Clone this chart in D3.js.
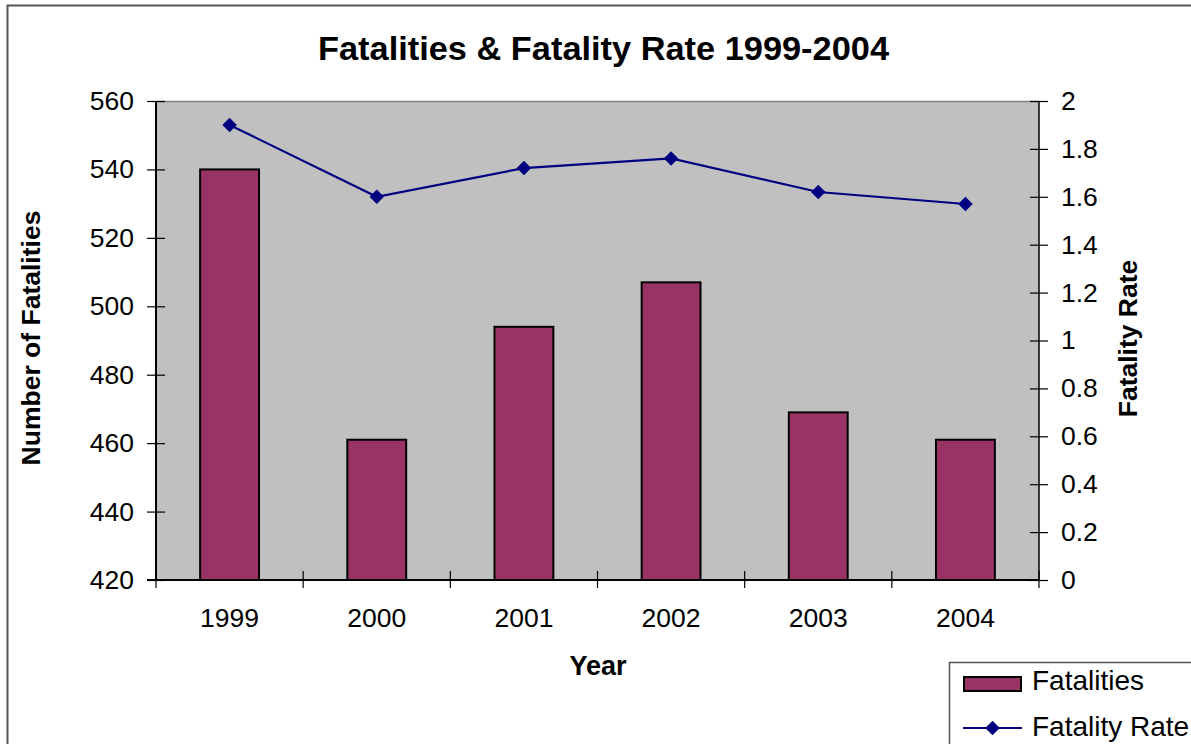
<!DOCTYPE html>
<html>
<head>
<meta charset="utf-8">
<script src="https://cdn.jsdelivr.net/npm/d3@7"></script>
<style>
  html, body { margin: 0; padding: 0; background: #fff; }
  svg { display: block; font-family: "Liberation Sans", Arial, sans-serif; }
</style>
</head>
<body>
<svg id="chart" width="1191" height="744"></svg>
<script>
const years = ["1999", "2000", "2001", "2002", "2003", "2004"];
const fatalities = [540, 461, 494, 507, 469, 461];
const fatalityRate = [1.90, 1.60, 1.72, 1.76, 1.62, 1.57];
const leftTicks = [420, 440, 460, 480, 500, 520, 540, 560];
const rightTicks = [0, 0.2, 0.4, 0.6, 0.8, 1, 1.2, 1.4, 1.6, 1.8, 2];
const titleText = "Fatalities & Fatality Rate 1999-2004";
const xTitle = "Year";
const yLeftTitle = "Number of Fatalities";
const yRightTitle = "Fatality Rate";
const seriesNames = ["Fatalities", "Fatality Rate"];

const svg = d3.select("#chart");
const L = 156, R = 1039, T = 101, B = 580;

// outer chart border
svg.append("rect").attr("x", 7.5).attr("y", 5.5).attr("width", 1300).attr("height", 900)
  .attr("fill", "#fff").attr("stroke", "#555").attr("stroke-width", 2);

const x = d3.scaleBand().domain(years).range([L, R]).padding(0);
const yL = d3.scaleLinear().domain([420, 560]).range([B, T]);
const yR = d3.scaleLinear().domain([0, 2]).range([B, T]);

// plot area
svg.append("rect").attr("x", L).attr("y", T).attr("width", R - L).attr("height", B - T)
  .attr("fill", "#C0C0C0");
svg.append("line").attr("x1", L).attr("x2", R).attr("y1", T + 0.5).attr("y2", T + 0.5)
  .attr("stroke", "#808080").attr("stroke-width", 1.5);

// bars
const bw = x.bandwidth() * 0.4;
svg.append("g").selectAll("rect").data(years).join("rect")
  .attr("x", d => x(d) + x.bandwidth() / 2 - bw / 2)
  .attr("y", (d, i) => yL(fatalities[i]))
  .attr("width", bw)
  .attr("height", (d, i) => B - yL(fatalities[i]))
  .attr("fill", "#993366").attr("stroke", "#000").attr("stroke-width", 2);

// line
const lineGen = d3.line().x((d, i) => x(years[i]) + x.bandwidth() / 2).y(d => yR(d));
svg.append("path").datum(fatalityRate).attr("d", lineGen)
  .attr("fill", "none").attr("stroke", "#000080").attr("stroke-width", 2.2);
const diamond = d3.symbol().type(d3.symbolSquare).size(105);
svg.append("g").selectAll("path").data(fatalityRate).join("path")
  .attr("transform", (d, i) => `translate(${x(years[i]) + x.bandwidth() / 2},${yR(d)}) rotate(45)`)
  .attr("d", diamond).attr("fill", "#000080");

const fontReg = "26.5px";

// left axis
const gL = svg.append("g").attr("transform", `translate(${L},0)`)
  .call(d3.axisLeft(yL).tickValues(leftTicks).tickSize(9).tickPadding(13).tickFormat(d3.format("d")));
gL.select(".domain").attr("stroke", "#000").attr("stroke-width", 2).attr("d", `M0,${T}V${B}`);
gL.selectAll(".tick line").attr("x1", -9).attr("x2", 9).attr("stroke", "#000").attr("stroke-width", 1.2);
gL.selectAll(".tick text").attr("font-size", fontReg).attr("fill", "#000").attr("x", -22)
  .attr("font-family", "Liberation Sans, Arial, sans-serif");

// right axis
const gR = svg.append("g").attr("transform", `translate(${R},0)`)
  .call(d3.axisRight(yR).tickValues(rightTicks).tickSize(9).tickFormat(d => String(+d.toFixed(1))));
gR.select(".domain").attr("stroke", "#000").attr("stroke-width", 1.5).attr("d", `M0,${T}V${B}`);
gR.selectAll(".tick line").attr("x1", -9).attr("x2", 9).attr("stroke", "#000").attr("stroke-width", 1.2);
gR.selectAll(".tick text").attr("font-size", fontReg).attr("fill", "#000").attr("x", 22)
  .attr("font-family", "Liberation Sans, Arial, sans-serif");

// bottom axis: ticks at band boundaries
const gB = svg.append("g").attr("transform", `translate(0,${B})`);
gB.append("line").attr("x1", L - 9).attr("x2", R).attr("y1", 0).attr("y2", 0)
  .attr("stroke", "#000").attr("stroke-width", 2);
const boundaries = years.map(d => x(d)).concat([R]);
gB.selectAll(".bt").data(boundaries).join("line").attr("class", "bt")
  .attr("x1", d => d).attr("x2", d => d).attr("y1", -9).attr("y2", 8)
  .attr("stroke", "#000").attr("stroke-width", 1.2);
gB.selectAll(".bl").data(years).join("text").attr("class", "bl")
  .attr("x", d => x(d) + x.bandwidth() / 2).attr("y", 47)
  .attr("text-anchor", "middle").attr("font-size", fontReg).text(d => d);

// titles
svg.append("text").attr("x", 603.5).attr("y", 60).attr("text-anchor", "middle")
  .attr("font-size", "33px").attr("font-weight", "bold")
  .attr("textLength", 571).attr("lengthAdjust", "spacingAndGlyphs").text(titleText);
svg.append("text").attr("x", 598).attr("y", 675).attr("text-anchor", "middle")
  .attr("font-size", "27px").attr("font-weight", "bold").text(xTitle);
svg.append("text").attr("transform", "translate(40,338) rotate(-90)").attr("text-anchor", "middle")
  .attr("font-size", "26.5px").attr("font-weight", "bold").text(yLeftTitle);
svg.append("text").attr("transform", "translate(1137,338.5) rotate(-90)").attr("text-anchor", "middle")
  .attr("font-size", "26.5px").attr("font-weight", "bold").text(yRightTitle);

// legend
const lg = svg.append("g");
lg.append("rect").attr("x", 949.5).attr("y", 662.5).attr("width", 400).attr("height", 200)
  .attr("fill", "#fff").attr("stroke", "#555").attr("stroke-width", 1.5);
lg.append("rect").attr("x", 964).attr("y", 677).attr("width", 57).attr("height", 14)
  .attr("fill", "#993366").attr("stroke", "#000").attr("stroke-width", 2);
lg.append("text").attr("x", 1032).attr("y", 690).attr("font-size", "28px").text(seriesNames[0]);
lg.append("line").attr("x1", 963).attr("x2", 1022).attr("y1", 728).attr("y2", 728)
  .attr("stroke", "#000080").attr("stroke-width", 2.2);
lg.append("path").attr("transform", "translate(992.5,728) rotate(45)")
  .attr("d", diamond).attr("fill", "#000080");
lg.append("text").attr("x", 1032).attr("y", 736).attr("font-size", "28px").text(seriesNames[1]);
</script>
</body>
</html>
